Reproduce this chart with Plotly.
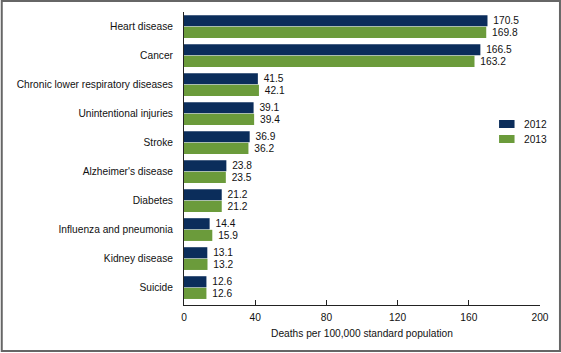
import plotly.graph_objects as go

categories = ["Heart disease", "Cancer", "Chronic lower respiratory diseases",
              "Unintentional injuries", "Stroke", "Alzheimer's disease",
              "Diabetes", "Influenza and pneumonia", "Kidney disease", "Suicide"]
years = ["2012", "2013"]
rates_2012 = [170.5, 166.5, 41.5, 39.1, 36.9, 23.8, 21.2, 14.4, 13.1, 12.6]
rates_2013 = [169.8, 163.2, 42.1, 39.4, 36.2, 23.5, 21.2, 15.9, 13.2, 12.6]
colors = ["#0b2d5b", "#6b9b3b"]
x_ticks = [0, 40, 80, 120, 160, 200]

W, H = 561, 353
L, R, T, B = 183.5, 21, 12, 48
pw = W - L - R
ph = H - T - B

def px_x(p):
    return (p - L) / pw

def px_y(p):
    return 1 - (p - T) / ph

font = dict(family="Liberation Sans, Arial, sans-serif", size=10.2, color="#111111")

fig = go.Figure()
for name, vals, col in zip(years, [rates_2012, rates_2013], colors):
    fig.add_trace(go.Bar(
        y=categories, x=vals, name=name, orientation="h",
        marker=dict(color=col, line=dict(width=0)),
        text=["\u00a0" + f"{v:.1f}" for v in vals], textposition="outside",
        textfont=font, constraintext="none", cliponaxis=False,
        showlegend=False,
    ))

# legend drawn as swatches + text
shapes = [dict(type="rect", xref="paper", yref="paper",
               x0=px_x(1), x1=px_x(560), y0=px_y(1), y1=px_y(351),
               line=dict(color="#666666", width=2), fillcolor="rgba(0,0,0,0)",
               layer="below")]
annotations = []
for i, (name, col) in enumerate(zip(years, colors)):
    yc = 124 + 15 * i
    shapes.append(dict(type="rect", xref="paper", yref="paper",
                       x0=px_x(499), x1=px_x(514.5), y0=px_y(yc - 4), y1=px_y(yc + 4),
                       line=dict(width=0), fillcolor=col))
    annotations.append(dict(text=name, xref="paper", yref="paper",
                            x=px_x(522), y=px_y(yc), xanchor="left", yanchor="middle",
                            showarrow=False, font=font))

fig.update_layout(
    width=W, height=H,
    margin=dict(l=L, r=R, t=T, b=B, pad=0, autoexpand=False),
    paper_bgcolor="white", plot_bgcolor="white",
    barmode="group", bargap=0.2, bargroupgap=0.04,
    font=font,
    showlegend=False,
    xaxis=dict(range=[0, 200], tickvals=x_ticks, showgrid=False, zeroline=False,
               showline=True, linecolor="#222222", linewidth=1,
               ticks="inside", ticklen=5, tickcolor="#222222", tickwidth=1,
               tickfont=font, automargin=False, ticklabelstandoff=3,
               title=dict(text="Deaths per 100,000 standard population",
                          font=font, standoff=7)),
    yaxis=dict(range=[9.6, -0.5], showgrid=False, zeroline=False,
               showline=True, linecolor="#222222", linewidth=1,
               ticks="", tickfont=font, ticklabelstandoff=8, automargin=False),
    shapes=shapes,
    annotations=annotations,
)

fig.write_html("out.html")
